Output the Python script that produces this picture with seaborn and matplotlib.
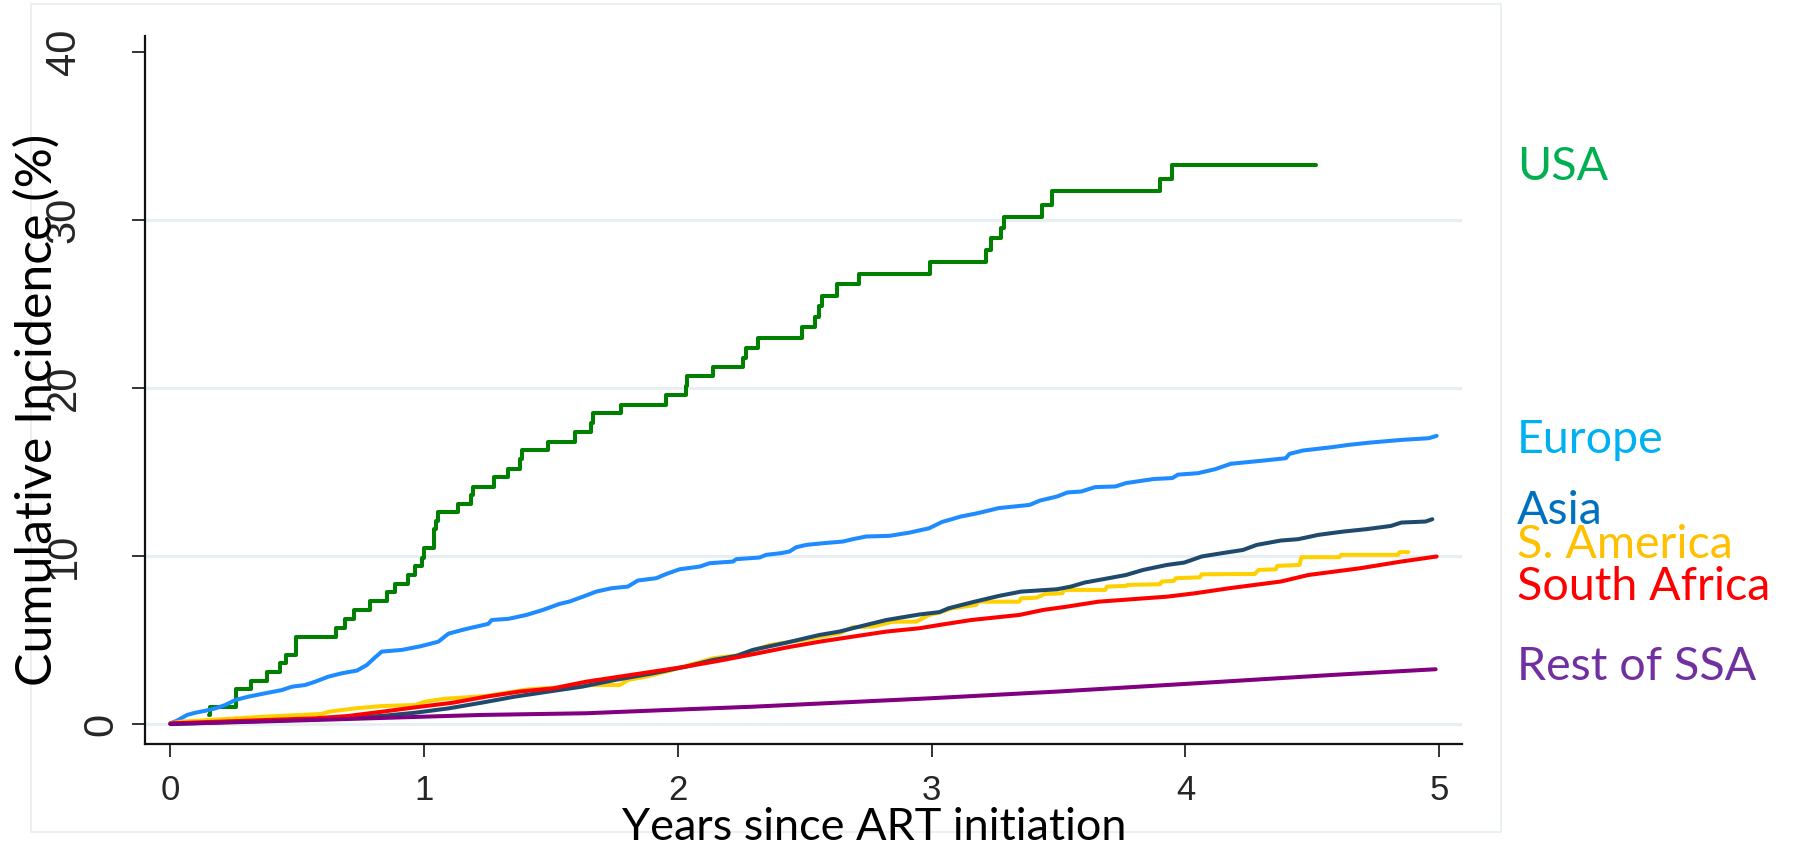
import matplotlib
matplotlib.use('Agg')
import matplotlib.pyplot as plt
import seaborn as sns
import numpy as np
import pandas as pd
from matplotlib.transforms import ScaledTranslation
from matplotlib.patches import Rectangle

# ---------------- data ----------------
usa_t = [0.153, 0.156, 0.258, 0.317, 0.381, 0.431, 0.457, 0.496, 0.654, 0.687,
         0.722, 0.785, 0.853, 0.886, 0.935, 0.965, 0.992, 1.000, 1.038, 1.046,
         1.053, 1.135, 1.185, 1.193, 1.275, 1.332, 1.378, 1.386, 1.489, 1.595,
         1.659, 1.667, 1.775, 1.955, 2.030, 2.035, 2.140, 2.258, 2.270, 2.315,
         2.488, 2.542, 2.557, 2.568, 2.628, 2.714, 2.994, 3.216, 3.233, 3.275,
         3.286, 3.434, 3.476, 3.901, 3.946, 4.516]
usa_v = [0.54, 1.03, 2.06, 2.58, 3.12, 3.61, 4.11, 5.20, 5.70, 6.23,
         6.77, 7.30, 7.84, 8.34, 8.87, 9.41, 9.90, 10.50, 11.60, 12.10,
         12.60, 13.10, 13.65, 14.10, 14.70, 15.20, 15.80, 16.30, 16.80, 17.40,
         17.90, 18.50, 19.00, 19.60, 20.10, 20.70, 21.25, 21.80, 22.40, 23.00,
         23.60, 24.20, 24.90, 25.50, 26.20, 26.80, 27.50, 28.20, 28.90, 29.50,
         30.20, 30.90, 31.75, 32.45, 33.30, 33.30]

europe_t = [0, 0.026, 0.066, 0.098, 0.138, 0.177, 0.216, 0.256, 0.308, 0.374,
            0.439, 0.479, 0.531, 0.571, 0.623, 0.676, 0.735, 0.774, 0.807, 0.833,
            0.912, 0.984, 1.056, 1.096, 1.161, 1.253, 1.266, 1.332, 1.403, 1.468,
            1.534, 1.573, 1.626, 1.678, 1.738, 1.803, 1.842, 1.915, 1.954, 2.007,
            2.086, 2.125, 2.217, 2.230, 2.322, 2.348, 2.407, 2.440, 2.466, 2.506,
            2.571, 2.650, 2.689, 2.742, 2.834, 2.912, 2.990, 3.040, 3.115, 3.182,
            3.264, 3.386, 3.427, 3.494, 3.535, 3.590, 3.644, 3.725, 3.766, 3.874,
            3.949, 3.970, 4.050, 4.118, 4.179, 4.308, 4.396, 4.410, 4.464, 4.579,
            4.647, 4.728, 4.851, 4.959, 4.990]
europe_v = [0.04, 0.20, 0.54, 0.67, 0.79, 0.93, 1.13, 1.43, 1.63, 1.83,
            2.02, 2.22, 2.32, 2.52, 2.82, 3.02, 3.18, 3.51, 3.97, 4.31,
            4.41, 4.62, 4.90, 5.38, 5.64, 5.96, 6.19, 6.26, 6.49, 6.79,
            7.15, 7.29, 7.58, 7.88, 8.08, 8.18, 8.54, 8.68, 8.93, 9.21,
            9.37, 9.57, 9.67, 9.81, 9.91, 10.07, 10.17, 10.27, 10.52, 10.66,
            10.76, 10.86, 11.00, 11.16, 11.20, 11.39, 11.65, 12.02, 12.35, 12.55,
            12.85, 13.04, 13.30, 13.54, 13.78, 13.84, 14.10, 14.14, 14.34, 14.58,
            14.64, 14.84, 14.93, 15.17, 15.49, 15.68, 15.82, 16.08, 16.28, 16.48,
            16.62, 16.75, 16.91, 17.01, 17.15]

samerica_t = [0, 0.046, 0.374, 0.597, 0.623, 0.728, 0.833, 0.964, 1.004, 1.080,
              1.245, 1.410, 1.573, 1.665, 1.771, 1.803, 1.875, 1.954, 2.033, 2.138,
              2.243, 2.361, 2.492, 2.637, 2.689, 2.768, 2.847, 2.939, 2.991, 3.031,
              3.081, 3.176, 3.183, 3.345, 3.352, 3.413, 3.447, 3.515, 3.522, 3.684,
              3.691, 3.766, 3.773, 3.900, 3.907, 3.955, 3.962, 4.057, 4.064, 4.274,
              4.288, 4.356, 4.362, 4.450, 4.457, 4.607, 4.614, 4.837, 4.844, 4.878]
samerica_v = [0.04, 0.14, 0.44, 0.60, 0.73, 0.93, 1.07, 1.13, 1.33, 1.50,
              1.67, 2.06, 2.22, 2.32, 2.32, 2.62, 2.82, 3.12, 3.46, 3.91,
              4.11, 4.70, 5.00, 5.40, 5.76, 5.80, 6.09, 6.09, 6.49, 6.63,
              6.89, 7.09, 7.28, 7.28, 7.48, 7.52, 7.74, 7.78, 7.98, 7.98,
              8.18, 8.22, 8.28, 8.32, 8.48, 8.52, 8.68, 8.73, 8.91, 8.93,
              9.17, 9.21, 9.41, 9.47, 9.93, 9.93, 10.07, 10.07, 10.23, 10.23]

asia_t = [0, 0.571, 0.833, 0.964, 1.096, 1.227, 1.358, 1.490, 1.621, 1.752,
          1.902, 2.033, 2.138, 2.230, 2.295, 2.427, 2.558, 2.636, 2.689, 2.821,
          2.952, 3.031, 3.067, 3.169, 3.264, 3.352, 3.494, 3.549, 3.603, 3.698,
          3.766, 3.833, 3.928, 3.996, 4.064, 4.145, 4.227, 4.281, 4.376, 4.444,
          4.525, 4.620, 4.715, 4.810, 4.851, 4.946, 4.973]
asia_v = [0, 0.28, 0.48, 0.67, 0.93, 1.27, 1.63, 1.93, 2.22, 2.62,
          3.02, 3.42, 3.81, 4.05, 4.41, 4.84, 5.30, 5.50, 5.70, 6.19,
          6.52, 6.66, 6.89, 7.28, 7.62, 7.88, 8.02, 8.18, 8.42, 8.68,
          8.87, 9.17, 9.47, 9.61, 9.97, 10.17, 10.36, 10.66, 10.92, 11.00,
          11.26, 11.45, 11.60, 11.79, 11.99, 12.05, 12.19]

safrica_t = [0, 0.308, 0.571, 0.702, 0.833, 0.964, 1.114, 1.245, 1.376, 1.508,
             1.639, 1.771, 1.902, 2.033, 2.164, 2.295, 2.427, 2.558, 2.689, 2.821,
             2.952, 3.033, 3.156, 3.345, 3.440, 3.535, 3.657, 3.928, 4.037, 4.172,
             4.376, 4.485, 4.688, 4.851, 4.990]
safrica_v = [0.04, 0.20, 0.34, 0.48, 0.73, 0.99, 1.27, 1.63, 1.93, 2.12,
             2.52, 2.82, 3.12, 3.42, 3.77, 4.15, 4.55, 4.90, 5.20, 5.50,
             5.70, 5.90, 6.19, 6.49, 6.79, 6.99, 7.28, 7.58, 7.78, 8.08,
             8.48, 8.87, 9.27, 9.67, 9.97]

rssa_t = [0, 0.571, 1.227, 1.639, 1.884, 2.295, 2.952, 3.031, 3.494, 4.037, 4.579, 4.986]
rssa_v = [0, 0.24, 0.54, 0.64, 0.79, 1.03, 1.50, 1.56, 1.93, 2.42, 2.92, 3.26]

region_names = ["USA", "Europe", "Asia", "S. America", "South Africa", "Rest of SSA"]
label_colors = ["#00B050", "#00B0F0", "#0070C0", "#FFC000", "#FF0000", "#7030A0"]
x_ticks = [0, 1, 2, 3, 4, 5]
y_ticks = [0, 10, 20, 30, 40]
grid_vals = [0, 10, 20, 30]

# ---------------- figure ----------------
sns.set_theme(style='white')
plt.rcParams['font.family'] = ['Liberation Sans', 'DejaVu Sans']

W, H = 1794, 851
fig = plt.figure(figsize=(W / 100, H / 100), dpi=100)
fig.patch.set_facecolor('white')
ax = fig.add_axes([145 / W, 1 - 744 / H, (1462 - 145) / W, (744 - 36) / H])
ax.set_facecolor('white')

for g in grid_vals:
    ax.axhline(g, color='#E8EFF2', lw=2.2, zorder=0)

lw = 2.9
series = [
    (usa_t, usa_v, '#008000', 'steps-post'),
    (europe_t, europe_v, '#1E8CFF', 'default'),
    (samerica_t, samerica_v, '#FFD000', 'default'),
    (asia_t, asia_v, '#1F4A6E', 'default'),
    (safrica_t, safrica_v, '#FF0000', 'default'),
    (rssa_t, rssa_v, '#800080', 'default'),
]
for t, v, c, ds in series:
    df = pd.DataFrame({'t': t, 'v': v})
    sns.lineplot(data=df, x='t', y='v', ax=ax, color=c, linewidth=lw,
                 estimator=None, sort=False, drawstyle=ds, legend=False, zorder=3)

ax.set_xlim(-0.1, 5.09)
ax.set_ylim(-1.19, 40.95)
ax.set_xticks(x_ticks)
ax.set_yticks(y_ticks)
ax.set_xlabel('')
ax.set_ylabel('')

for s in ['top', 'right']:
    ax.spines[s].set_visible(False)
for s in ['left', 'bottom']:
    ax.spines[s].set_color('#111111')
    ax.spines[s].set_linewidth(1.6)

ax.tick_params(axis='both', which='major', direction='out', length=9.5,
               width=1.2, color='#111111', left=True, bottom=True)
ax.tick_params(axis='x', labelsize=25, pad=12)
ax.tick_params(axis='y', labelsize=30, pad=49)

for lab in ax.get_xticklabels():
    lab.set_fontfamily(['Liberation Sans', 'DejaVu Sans'])
for lab in ax.get_yticklabels():
    lab.set_rotation(90)
    lab.set_ha('center')
    lab.set_va('center')
    lab.set_fontfamily(['Liberation Sans Narrow', 'Liberation Sans', 'DejaVu Sans'])
zero_lab = ax.yaxis.get_major_ticks()[0].label1
zero_lab.set_transform(zero_lab.get_transform() +
                       ScaledTranslation(0.38, 0, fig.dpi_scale_trans))

lab_font = ['Lato', 'DejaVu Sans']
fig.text(37 / W, 1 - 410 / H, 'Cumulative Incidence (%)', rotation=90,
         ha='center', va='center', fontsize=36, family=lab_font, color='black')
fig.text(874 / W, 1 - 840 / H, 'Years since ART initiation',
         ha='center', va='baseline', fontsize=32.5, family=lab_font, color='black')

baselines = [180, 453, 524, 558, 600, 680]
for name, col, b in zip(region_names, label_colors, baselines):
    fig.text(1517 / W, 1 - b / H, name, ha='left', va='baseline',
             fontsize=33.5, family=lab_font, color=col)

fig.patches.append(Rectangle((31 / W, 1 - 832 / H), (1501 - 31) / W, (832 - 4) / H,
                             transform=fig.transFigure, fill=False,
                             ec='#E6EEF0', lw=1.2, zorder=0))

fig.savefig('out.png', dpi=100, facecolor='white')
